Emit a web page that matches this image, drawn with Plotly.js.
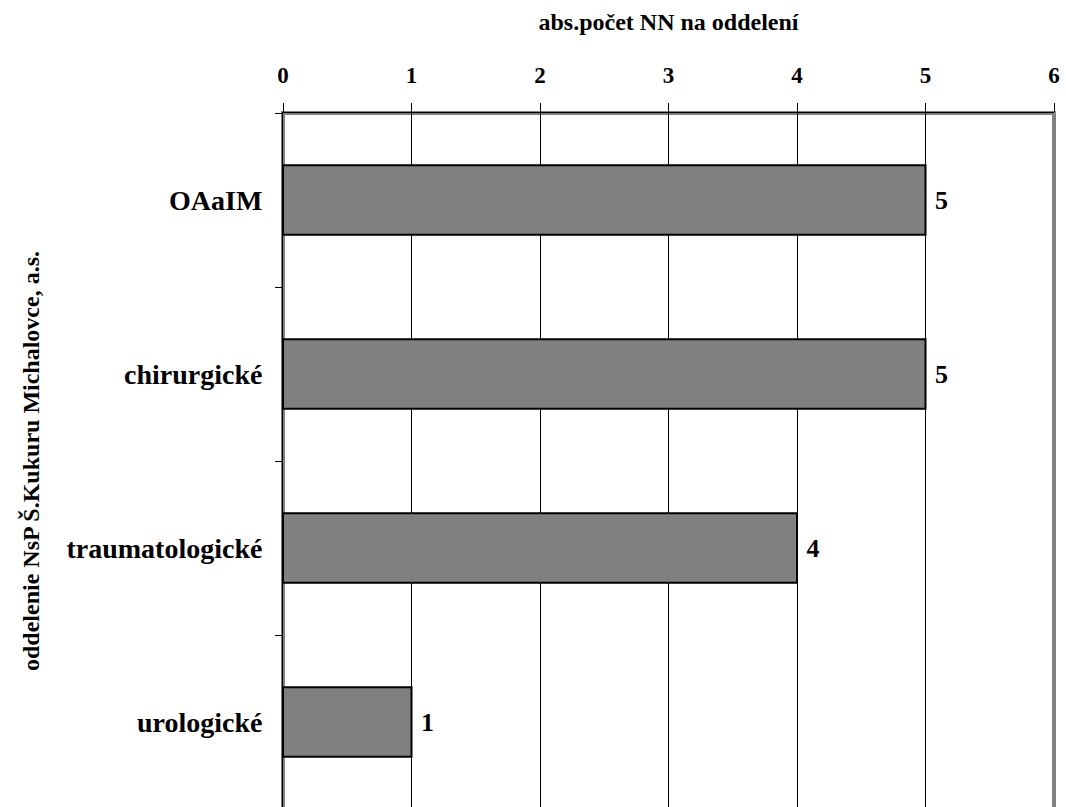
<!DOCTYPE html>
<html><head><meta charset="utf-8">
<script src="https://cdn.plot.ly/plotly-3.0.1.min.js"></script>
<style>html,body{margin:0;padding:0;background:#fff;overflow:hidden}</style>
</head><body>
<div id="chart" style="width:1066px;height:812px"></div>
<script>
const categories = ["OAaIM", "chirurgické", "traumatologické", "urologické"];
const values = [5, 5, 4, 1];
const xTicks = [0, 1, 2, 3, 4, 5, 6];

const F = "Liberation Serif, Times New Roman, serif";
const trace = {
  type: "bar", orientation: "h",
  x: values, y: categories,
  marker: {color: "#808080", line: {color: "#000", width: 2}},
  text: values.map(v => " " + v), textposition: "outside",
  textfont: {family: F, size: 26, color: "#000", weight: "bold"},
  cliponaxis: false, width: 0.4, hoverinfo: "none"
};
const layout = {
  width: 1066, height: 812,
  margin: {l: 283, r: 12, t: 113, b: 3},
  paper_bgcolor: "#fff", plot_bgcolor: "#fff",
  showlegend: false,
  xaxis: {
    side: "top", range: [0, 6], tickvals: xTicks, ticktext: xTicks.map(String),
    showgrid: true, gridcolor: "#000", gridwidth: 1,
    zeroline: false, showline: true, linecolor: "#000", linewidth: 1,
    ticks: "outside", ticklen: 9, tickcolor: "#000",
    ticklabelstandoff: 11,
    tickfont: {family: F, size: 23, color: "#000", weight: "bold"},
    title: {text: "abs.počet NN na oddelení", font: {family: F, size: 24, color: "#000", weight: "bold"}, standoff: 25},
    fixedrange: true
  },
  yaxis: {
    type: "category", autorange: "reversed",
    showgrid: false, zeroline: false, showline: true, linecolor: "#000", linewidth: 1,
    ticks: "outside", ticklen: 7, tickcolor: "#000", tickson: "boundaries",
    tickfont: {family: F, size: 28, color: "#000", weight: "bold"},
    ticklabelstandoff: 14,
    title: {text: "oddelenie NsP Š.Kukuru Michalovce, a.s.", font: {family: F, size: 24, color: "#000", weight: "bold"}, standoff: 20},
    fixedrange: true
  },
  shapes: [
    {type: "rect", xref: "paper", yref: "paper", x0: 0, x1: 1, y0: 0, y1: 1,
     line: {color: "#808080", width: 4}, layer: "below"}
  ]
};
Plotly.newPlot("chart", [trace], layout, {displayModeBar: false, staticPlot: true});
</script>
</body></html>
